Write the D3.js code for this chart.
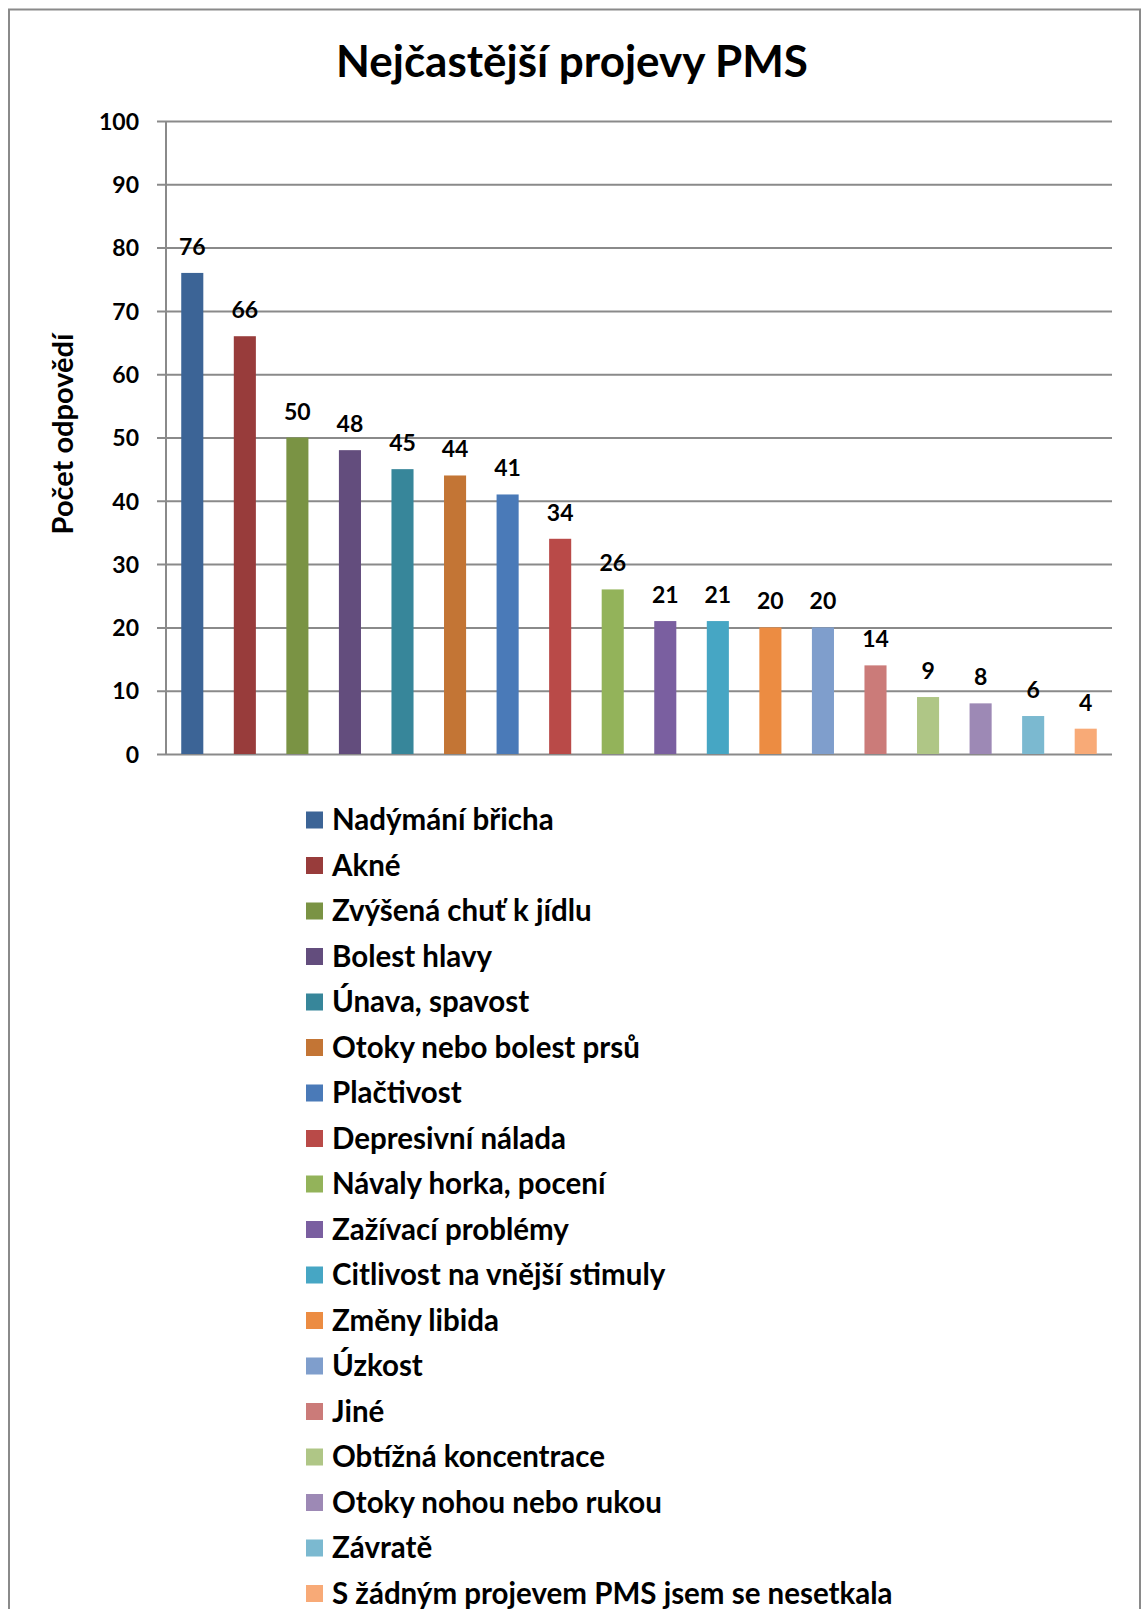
<!DOCTYPE html>
<html>
<head>
<meta charset="utf-8">
<script src="https://cdn.jsdelivr.net/npm/d3@7"></script>
<style>
  html, body { margin: 0; padding: 0; background: #fff; }
  svg { display: block; font-family: Lato, "Open Sans", sans-serif; font-weight: bold; }
</style>
</head>
<body>
<svg id="chart" width="1141" height="1609"></svg>
<script>
// Symptom categories, in the order drawn
const categories = [
  "Nadýmání břicha",
  "Akné",
  "Zvýšená chuť k jídlu",
  "Bolest hlavy",
  "Únava, spavost",
  "Otoky nebo bolest prsů",
  "Plačtivost",
  "Depresivní nálada",
  "Návaly horka, pocení",
  "Zažívací problémy",
  "Citlivost na vnější stimuly",
  "Změny libida",
  "Úzkost",
  "Jiné",
  "Obtížná koncentrace",
  "Otoky nohou nebo rukou",
  "Závratě",
  "S žádným projevem PMS jsem se nesetkala"
];

// Number of responses per symptom
const values = [76, 66, 50, 48, 45, 44, 41, 34, 26, 21, 21, 20, 20, 14, 9, 8, 6, 4];

// Fill colour per symptom
const colors = [
  "#3c6496", "#983c3b", "#7a9344", "#634d7d", "#37869a", "#c37535",
  "#4a7ab8", "#b94a48", "#93b35a", "#7a5fa0", "#46a6c4", "#ec8c42",
  "#7f9ecc", "#cb7b79", "#afc686", "#9d89b5", "#7bb9d0", "#f8aa77"
];

// Value axis ticks
const yTicks = [0, 10, 20, 30, 40, 50, 60, 70, 80, 90, 100];

const title = "Nejčastější projevy PMS";
const yTitle = "Počet odpovědí";

const svg = d3.select("#chart");

const plot = { left: 166, right: 1112, top: 121, bottom: 754 };

const x = d3.scaleBand()
  .domain(categories)
  .range([plot.left, plot.right])
  .paddingInner(0.58)
  .paddingOuter(0.29);

const y = d3.scaleLinear()
  .domain([0, 100])
  .range([plot.bottom, plot.top]);

// Outer frame
svg.append("rect")
  .attr("x", 9).attr("y", 9.5)
  .attr("width", 1131).attr("height", 1640)
  .attr("fill", "none")
  .attr("stroke", "#8a8a8a")
  .attr("stroke-width", 2);

// Title
svg.append("text")
  .attr("x", 572).attr("y", 77)
  .attr("text-anchor", "middle")
  .attr("font-size", 44)
  .attr("fill", "#000")
  .text(title);

// Gridlines and tick marks
const yAxis = d3.axisLeft(y)
  .tickValues(yTicks)
  .tickSize(-(plot.right - plot.left))
  .tickSizeOuter(0)
  .tickPadding(27)
  .tickFormat(d3.format("d"));

const gAxis = svg.append("g")
  .attr("transform", `translate(${plot.left},0)`)
  .call(yAxis);

gAxis.select(".domain").remove();
gAxis.selectAll(".tick line")
  .attr("x1", -9)
  .attr("stroke", "#8a8a8a")
  .attr("stroke-width", 2);
gAxis.selectAll(".tick text")
  .attr("font-size", 23)
  .attr("font-family", "Lato, sans-serif")
  .attr("font-weight", "bold")
  .attr("fill", "#000")
  .attr("dy", "0.36em");

// Vertical axis line
svg.append("line")
  .attr("x1", plot.left).attr("x2", plot.left)
  .attr("y1", y(100)).attr("y2", y(0))
  .attr("stroke", "#8a8a8a")
  .attr("stroke-width", 2);

// Bars
svg.append("g")
  .selectAll("rect")
  .data(values)
  .join("rect")
  .attr("x", (d, i) => x(categories[i]))
  .attr("y", d => y(d))
  .attr("width", x.bandwidth())
  .attr("height", d => y(0) - y(d))
  .attr("fill", (d, i) => colors[i]);

// Value labels
svg.append("g")
  .selectAll("text")
  .data(values)
  .join("text")
  .attr("x", (d, i) => x(categories[i]) + x.bandwidth() / 2)
  .attr("y", d => y(d) - 18)
  .attr("text-anchor", "middle")
  .attr("font-size", 23)
  .attr("fill", "#000")
  .text(d => d);

// Axis title
svg.append("text")
  .attr("transform", `translate(73, 434) rotate(-90)`)
  .attr("text-anchor", "middle")
  .attr("font-size", 29)
  .attr("fill", "#000")
  .text(yTitle);

// Legend
const legend = svg.append("g");
const rowStep = 45.5;
const legendRows = legend.selectAll("g")
  .data(categories)
  .join("g")
  .attr("transform", (d, i) => `translate(306, ${820 + i * rowStep})`);

legendRows.append("rect")
  .attr("x", 0).attr("y", -8.5)
  .attr("width", 17).attr("height", 17)
  .attr("fill", (d, i) => colors[i]);

legendRows.append("text")
  .attr("x", 26).attr("y", 10)
  .attr("font-size", 29.5)
  .attr("fill", "#000")
  .text(d => d);
</script>
</body>
</html>
